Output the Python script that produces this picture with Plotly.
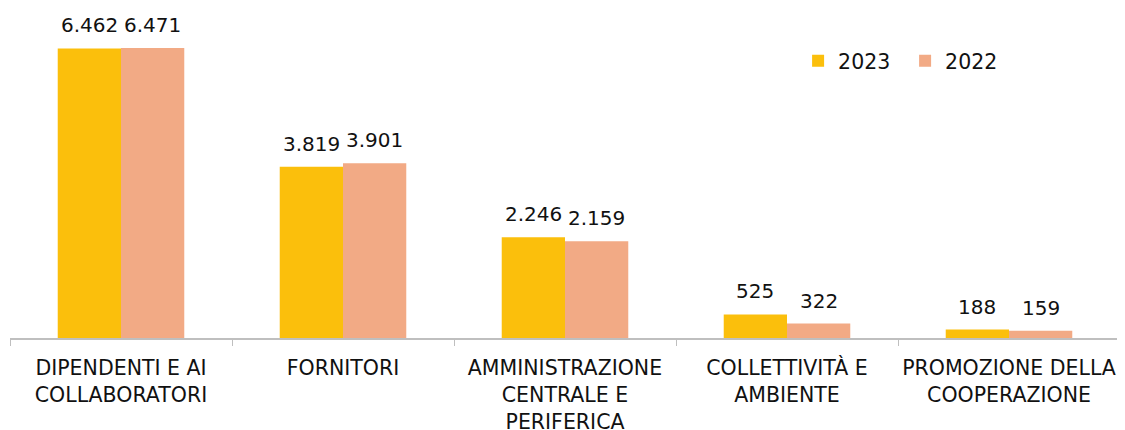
import plotly.graph_objects as go

categories = ["DIPENDENTI E AI<br>COLLABORATORI", "FORNITORI",
              "AMMINISTRAZIONE<br>CENTRALE E<br>PERIFERICA",
              "COLLETTIVITÀ E<br>AMBIENTE", "PROMOZIONE DELLA<br>COOPERAZIONE"]
values_2023 = [6462, 3819, 2246, 525, 188]
values_2022 = [6471, 3901, 2159, 322, 159]
series = [("2023", values_2023, "#FBBF0C"), ("2022", values_2022, "#F2AA85")]

def fmt(v):
    return f"{v:,}".replace(",", ".")

FONT = "DejaVu Sans"
W, H = 1125, 430
ML, MR, MT, MB = 2, 13, 7, 100
BARGAP = 0.43

fig = go.Figure()
for name, vals, col in series:
    fig.add_trace(go.Bar(name=name, x=categories, y=vals,
                         marker=dict(color=col, line=dict(width=0))))

# data labels as annotations placed over each bar of the group
band = (W - ML - MR) / len(categories)
barw = band * (1 - BARGAP) / len(series)
for i, (name, vals, col) in enumerate(series):
    shift = (i - (len(series) - 1) / 2) * barw
    for c, v in zip(categories, vals):
        fig.add_annotation(x=c, y=v, text=fmt(v), showarrow=False,
                           xshift=shift, yshift=9, yanchor="bottom",
                           font=dict(size=20, family=FONT, color="#111111"))

fig.update_layout(
    width=W, height=H,
    margin=dict(l=ML, r=MR, t=MT, b=MB),
    paper_bgcolor="white", plot_bgcolor="white",
    barmode="group", bargap=BARGAP, bargroupgap=0,
    font=dict(family=FONT, size=20, color="#111111"),
    showlegend=True,
    legend=dict(orientation="h", x=0.71, y=0.858, xanchor="left", yanchor="middle",
                font=dict(size=20.5, family=FONT, color="#111111"),
                itemwidth=30, entrywidth=62, traceorder="normal",
                bgcolor="rgba(0,0,0,0)"),
    xaxis=dict(showline=True, linecolor="#BFBFBF", linewidth=1.5,
               ticks="outside", tickson="boundaries", ticklen=6, tickcolor="#BFBFBF",
               tickfont=dict(size=20.5, family=FONT, color="#111111"),
               tickangle=0, ticklabelstandoff=11, automargin=False,
               showgrid=False, fixedrange=True),
    yaxis=dict(range=[0, 7207], visible=False, showgrid=False, fixedrange=True,
               automargin=False),
)

fig.write_html("out.html")
